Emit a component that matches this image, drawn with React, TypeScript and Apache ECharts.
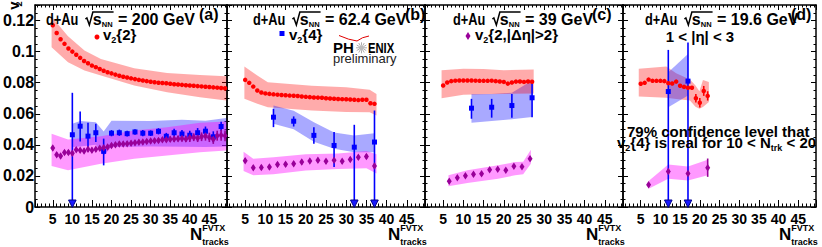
import React, { useEffect, useRef } from "react";
import * as echarts from "echarts";

const FONT = '"Liberation Sans", Arial, Helvetica, sans-serif';

// ---------------- Panel (a): 200 GeV ----------------
const aRedN = [5, 6, 7, 8, 9, 10, 11, 12, 13, 14, 15, 16, 17, 18, 19, 20, 21, 22, 23, 24, 25, 26, 27, 28, 29, 30, 31, 32, 33, 34, 35, 36, 37, 38, 39, 40, 41, 42, 43, 44, 45, 46, 47, 48, 49];
const aRedV = [0.117, 0.112, 0.108, 0.105, 0.102, 0.1, 0.098, 0.096, 0.094, 0.0925, 0.091, 0.09, 0.0888, 0.0877, 0.0867, 0.086, 0.0852, 0.0845, 0.0838, 0.0833, 0.0828, 0.0823, 0.0818, 0.0814, 0.081, 0.0806, 0.0803, 0.08, 0.0798, 0.0796, 0.0793, 0.079, 0.0788, 0.0786, 0.0784, 0.0782, 0.078, 0.0778, 0.0776, 0.0774, 0.0772, 0.077, 0.0768, 0.0766, 0.0764];
const aRedBandN = [4.7, 8.9, 13.1, 17.3, 25.8, 34.2, 42.6, 49.3];
const aRedBandHi = [0.1224, 0.1099, 0.1007, 0.0953, 0.0893, 0.0863, 0.085, 0.0841];
const aRedBandLo = [0.1028, 0.0931, 0.0878, 0.0846, 0.0782, 0.0739, 0.0707, 0.0685];

const aBlueN = [10, 12, 14, 16, 18, 20, 22, 24, 26, 28, 30, 32, 34, 36, 38, 40, 42, 44, 46, 48];
const aBlueV = [0.0465, 0.052, 0.0456, 0.0478, 0.0358, 0.0475, 0.0478, 0.0472, 0.0483, 0.0475, 0.0475, 0.0487, 0.0455, 0.0478, 0.047, 0.0462, 0.0478, 0.0488, 0.0452, 0.0518];
const aBlueUp = [0.027, 0.0095, 0.0086, 0.0058, 0.0082, 0.002, 0.002, 0.0018, 0.0018, 0.002, 0.0018, 0.002, 0.0022, 0.0025, 0.0025, 0.0028, 0.003, 0.003, 0.0035, 0.003];
const aBlueDn = [0.06, 0.0098, 0.0077, 0.006, 0.009, 0.002, 0.002, 0.0018, 0.0018, 0.002, 0.0018, 0.002, 0.0022, 0.0025, 0.0025, 0.0028, 0.003, 0.003, 0.0035, 0.003];
const aBlueBandN = [10, 12, 16, 18, 20, 30, 38, 44, 49.3];
const aBlueBandHi = [0.0535, 0.0553, 0.0546, 0.0486, 0.0555, 0.0553, 0.0561, 0.0555, 0.0572];
const aBlueBandLo = [0.0386, 0.039, 0.04, 0.0332, 0.0386, 0.039, 0.0388, 0.0386, 0.039];

const aPurN = [5, 6, 7, 8, 9, 10, 11, 12, 13, 14, 15, 16, 17, 18, 19, 20, 21, 22, 23, 24, 25, 26, 27, 28, 29, 30, 31, 32, 33, 34, 35, 36, 37, 38, 39, 40, 41, 42, 43, 44, 45, 46, 47, 48, 49];
const aPurV = [0.0379, 0.0336, 0.0328, 0.035, 0.0351, 0.0346, 0.0368, 0.0365, 0.0361, 0.0371, 0.0366, 0.0371, 0.0378, 0.0381, 0.0386, 0.0395, 0.04, 0.0405, 0.0406, 0.0407, 0.0411, 0.0413, 0.0417, 0.0418, 0.0422, 0.0424, 0.0427, 0.0428, 0.0432, 0.0433, 0.0436, 0.0437, 0.044, 0.0441, 0.0438, 0.0446, 0.0449, 0.0443, 0.0452, 0.0457, 0.0448, 0.0436, 0.0459, 0.0462, 0.0458];
const aPurErr = [0.0015, 0.0015, 0.0015, 0.0015, 0.0015, 0.0015, 0.0015, 0.0015, 0.0015, 0.0015, 0.0015, 0.0015, 0.0015, 0.0015, 0.0015, 0.0015, 0.0015, 0.0015, 0.0015, 0.0015, 0.0015, 0.0015, 0.0015, 0.0015, 0.0015, 0.0015, 0.0015, 0.0015, 0.0015, 0.0015, 0.0018, 0.0018, 0.0018, 0.002, 0.002, 0.0027, 0.0025, 0.0025, 0.0028, 0.003, 0.003, 0.003, 0.0032, 0.0035, 0.0035];
const aPurBandN = [4.7, 8.9, 17.3, 25.8, 34.2, 42.6, 49.3];
const aPurBandHi = [0.0471, 0.0435, 0.0456, 0.0493, 0.0514, 0.0542, 0.055];
const aPurBandLo = [0.0264, 0.0236, 0.0279, 0.0311, 0.0332, 0.0353, 0.0364];

// ---------------- Panel (b): 62.4 GeV ----------------
const bRedN = [5, 6, 7, 8, 9, 10, 11, 12, 13, 14, 15, 16, 17, 18, 19, 20, 21, 22, 23, 24, 25, 26, 27, 28, 29, 30, 31, 32, 33, 34, 35, 36, 37];
const bRedV = [0.0818, 0.0799, 0.0775, 0.075, 0.0737, 0.0731, 0.0728, 0.0725, 0.0723, 0.0721, 0.0719, 0.0717, 0.0716, 0.0714, 0.0711, 0.0709, 0.0707, 0.0705, 0.0704, 0.0703, 0.07, 0.0698, 0.0697, 0.0695, 0.0694, 0.0693, 0.0692, 0.069, 0.0688, 0.069, 0.069, 0.0668, 0.0664];
const bRedBandN = [4.8, 8, 10.6, 21.5, 30, 35.8, 37.5];
const bRedBandHi = [0.0905, 0.0846, 0.0803, 0.078, 0.077, 0.0755, 0.0728];
const bRedBandLo = [0.0696, 0.0664, 0.0642, 0.0621, 0.0612, 0.061, 0.0589];

const bBlueN = [12, 17, 22, 27, 32, 37];
const bBlueV = [0.0578, 0.0552, 0.0461, 0.0396, 0.0385, 0.0418];
const bBlueUp = [0.0054, 0.0031, 0.0053, 0.0086, 0.0144, 0.0203];
const bBlueDn = [0.0064, 0.0034, 0.0054, 0.0139, 0.05, 0.05];
const bBlueBandN = [12, 17, 22, 27, 32, 37];
const bBlueBandHi = [0.0653, 0.062, 0.0546, 0.048, 0.046, 0.0475];
const bBlueBandLo = [0.0536, 0.05, 0.042, 0.0375, 0.0353, 0.0353];

const bPurN = [5, 7, 9, 11, 13, 15, 17, 19, 21, 23, 25, 27, 29, 31, 33, 35, 37];
const bPurV = [0.0298, 0.0253, 0.0255, 0.0257, 0.0274, 0.0275, 0.0278, 0.0289, 0.0296, 0.0301, 0.0294, 0.0301, 0.0294, 0.0306, 0.032, 0.0325, 0.0264];
const bPurErr = [0.0015, 0.0015, 0.0015, 0.0015, 0.0015, 0.0015, 0.0015, 0.0015, 0.0015, 0.0015, 0.0015, 0.0015, 0.0015, 0.0015, 0.0015, 0.0015, 0.0015];
const bPurBandN = [4.6, 7, 12, 20, 28, 35, 37.5];
const bPurBandHi = [0.0355, 0.031, 0.032, 0.034, 0.0345, 0.036, 0.034];
const bPurBandLo = [0.0232, 0.0205, 0.021, 0.0235, 0.0245, 0.025, 0.0215];

// ---------------- Panel (c): 39 GeV ----------------
const cRedN = [5, 6, 7, 8, 9, 10, 11, 12, 13, 14, 15, 16, 17, 18, 19, 20, 21, 22, 23, 24, 25, 26, 27];
const cRedV = [0.0782, 0.0801, 0.081, 0.0813, 0.0814, 0.0814, 0.0814, 0.0814, 0.0813, 0.0812, 0.0812, 0.0812, 0.0813, 0.081, 0.0808, 0.0805, 0.0794, 0.0801, 0.0807, 0.0808, 0.0805, 0.0808, 0.0806];
const cRedBandN = [4.6, 10, 15, 20, 27.4];
const cRedBandHi = [0.088, 0.089, 0.0888, 0.088, 0.0885];
const cRedBandLo = [0.07, 0.0722, 0.0725, 0.0728, 0.073];

const cBlueN = [12, 17, 22, 27];
const cBlueV = [0.0636, 0.0642, 0.0653, 0.0703];
const cBlueUp = [0.006, 0.0054, 0.0075, 0.011];
const cBlueDn = [0.0068, 0.0067, 0.0078, 0.0125];
const cBlueBandN = [12, 17, 22, 27];
const cBlueBandHi = [0.0728, 0.0728, 0.0735, 0.0814];
const cBlueBandLo = [0.0542, 0.0553, 0.0565, 0.058];

const cPurN = [6.5, 8.5, 10.5, 12.5, 14.5, 16.5, 18.5, 20.5, 22.5, 24.5, 26.5];
const cPurV = [0.0165, 0.0189, 0.0201, 0.021, 0.0214, 0.024, 0.0243, 0.0237, 0.0262, 0.0259, 0.0311];
const cPurErr = [0.0012, 0.0012, 0.0012, 0.0012, 0.0012, 0.0012, 0.0012, 0.0012, 0.0012, 0.0012, 0.0014];
const cPurBandN = [6.3, 11, 18.6, 22.8, 24.8, 26.7];
const cPurBandHi = [0.0204, 0.0236, 0.0268, 0.0289, 0.0292, 0.0369];
const cPurBandLo = [0.0133, 0.0154, 0.0182, 0.0204, 0.021, 0.0279];

// ---------------- Panel (d): 19.6 GeV ----------------
const dRedN = [5, 6, 7, 8, 9, 10, 11, 12, 13, 14, 15, 16, 17, 18, 19, 20, 21, 22];
const dRedV = [0.0793, 0.0799, 0.082, 0.0812, 0.0812, 0.0812, 0.081, 0.0797, 0.0795, 0.0807, 0.078, 0.0773, 0.0767, 0.0767, 0.07, 0.0671, 0.0747, 0.0715];
const dRedErr = [0.0008, 0.0008, 0.0008, 0.0008, 0.0008, 0.0008, 0.0008, 0.0008, 0.0008, 0.0008, 0.001, 0.001, 0.001, 0.001, 0.0028, 0.003, 0.0032, 0.003];
const dRedBandN = [4.5, 11.5, 14, 17.5, 18.9, 19.9, 20.8, 22.3];
const dRedBandHi = [0.0889, 0.0904, 0.086, 0.082, 0.0782, 0.0745, 0.0818, 0.0805];
const dRedBandLo = [0.0711, 0.0703, 0.0695, 0.0685, 0.0645, 0.0632, 0.0643, 0.0675];

const dBlueN = [12, 17];
const dBlueV = [0.0743, 0.081];
const dBlueUp = [0.0268, 0.0248];
const dBlueDn = [0.09, 0.09];
const dBlueBandN = [12, 17];
const dBlueBandHi = [0.0867, 0.0985];
const dBlueBandLo = [0.0642, 0.0718];

const dPurN = [7, 12, 17, 22];
const dPurV = [0.0143, 0.0229, 0.0216, 0.0253];
const dPurErr = [0.001, 0.0012, 0.0012, 0.0059];
const dPurBandN = [7, 12, 17, 22];
const dPurBandHi = [0.0167, 0.0274, 0.0261, 0.0304];
const dPurBandLo = [0.0118, 0.0182, 0.0171, 0.0204];

// panel texts
const energies = ["200", "62.4", "39", "19.6"];
const panelTags = ["(a)", "(b)", "(c)", "(d)"];

const RED = "#ff0000";
const BLUE = "#0000ff";
const PUR = "#990099";
const RED_BAND = "rgba(255,0,0,0.33)";
const BLUE_BAND = "rgba(40,40,255,0.4)";
const PUR_BAND = "rgba(255,0,255,0.4)";

const GRIDS = [
  { left: 33, width: 194 },
  { left: 227, width: 198 },
  { left: 425, width: 198 },
  { left: 623, width: 193 },
];
const TOP = 5;
const HEIGHT = 202;

function bandSeries(gi: number, N: number[], lo: number[], hi: number[], color: string, z: number) {
  return {
    type: "custom",
    xAxisIndex: gi * 2,
    yAxisIndex: gi * 2,
    z,
    silent: true,
    clip: true,
    data: N.map((n, i) => [n, lo[i], hi[i]]),
    renderItem: (params: any, api: any) => {
      if (params.dataIndex !== 0) return null;
      const top = N.map((n, i) => api.coord([n, hi[i]]));
      const bot = N.map((n, i) => api.coord([n, lo[i]])).reverse();
      return { type: "polygon", shape: { points: top.concat(bot) }, style: { fill: color } };
    },
  };
}

function errSeries(gi: number, N: number[], v: number[], up: number[], dn: number[], color: string, z: number) {
  return {
    type: "custom",
    xAxisIndex: gi * 2,
    yAxisIndex: gi * 2,
    z,
    silent: true,
    clip: false,
    data: N.map((n, i) => [n, v[i] - dn[i], v[i] + up[i]]),
    renderItem: (params: any, api: any) => {
      const n = api.value(0);
      const lo = api.value(1);
      const hi = api.value(2);
      const arrow = lo < 0;
      const p1 = api.coord([n, hi]);
      const p0 = api.coord([n, Math.max(lo, 0)]);
      const children: any[] = [
        { type: "line", shape: { x1: p0[0], y1: arrow ? p0[1] - 6 : p0[1], x2: p1[0], y2: p1[1] }, style: { stroke: color, lineWidth: 1.6 } },
      ];
      if (arrow) {
        children.push({
          type: "polygon",
          shape: { points: [[p0[0] - 3.8, p0[1] - 7], [p0[0] + 3.8, p0[1] - 7], [p0[0], p0[1] + 0.5]] },
          style: { fill: "#1a1aff", stroke: "#00008b", lineWidth: 1 },
        });
      }
      return { type: "group", children };
    },
  };
}

function pointSeries(gi: number, N: number[], v: number[], symbol: string, size: any, color: string) {
  return {
    type: "scatter",
    xAxisIndex: gi * 2,
    yAxisIndex: gi * 2,
    z: 10,
    silent: true,
    symbol,
    symbolSize: size,
    itemStyle: { color, opacity: 1 },
    data: N.map((n, i) => [n, v[i]]),
  };
}

export default function App() {
  const ref = useRef<HTMLDivElement>(null);
  useEffect(() => {
    document.body.style.margin = "0";
    const chart = echarts.init(ref.current!, null, { renderer: "svg" });

    const cv = document.createElement("canvas").getContext("2d")!;
    const tw = (t: string, s: number, w = "bold") => {
      cv.font = `${w} ${s}px ${FONT}`;
      return cv.measureText(t).width;
    };
    const txt = (t: string, x: number, base: number, s: number, opts: any = {}) => ({
      type: "text",
      x,
      y: base - 0.35 * s,
      z: 100,
      silent: true,
      rotation: opts.rotation || 0,
      scaleX: opts.sx || 1,
      style: {
        text: t,
        fontSize: s,
        fontWeight: opts.w || "bold",
        fontFamily: FONT,
        fill: opts.fill || "#000",
        textAlign: opts.align || "left",
        verticalAlign: "middle",
      },
    });
    const seq = (x0: number, base: number, parts: any[]) => {
      const els: any[] = [];
      let x = x0;
      for (const p of parts) {
        els.push(txt(p.t, x, base + (p.dy || 0), p.s, { w: p.w, sx: p.sx }));
        x += tw(p.t, p.s, p.w || "bold") * (p.sx || 1) + (p.gap || 0);
      }
      return { els, end: x };
    };

    const graphics: any[] = [];
    // Titles
    const titleX = [46, 253, 453, 645];
    const tagX = [199, 405, 592, 791];
    const base = 25;
    for (let i = 0; i < 4; i++) {
      const x0 = titleX[i];
      const a = seq(x0, base, [{ t: "d+Au", s: 16, sx: 0.8 }]);
      const rx = a.end + 7;
      const s = seq(rx + 7.5, base, [{ t: "s", s: 16 }, { t: "NN", s: 7.5, dy: 2 }]);
      graphics.push(...a.els, ...s.els);
      graphics.push({
        type: "polyline",
        silent: true,
        z: 100,
        shape: { points: [[rx, base - 6], [rx + 1.5, base - 7], [rx + 4, base], [rx + 7.5, base - 13], [s.end + 1, base - 13]] },
        style: { stroke: "#000", lineWidth: 1.5, fill: null },
      });
      const e = seq(s.end + 1, base, [{ t: " = " + energies[i] + " GeV", s: 16 }]);
      graphics.push(...e.els);
      graphics.push(txt(panelTags[i], tagX[i], 20, 16));
    }
    // Legends
    graphics.push({ type: "circle", silent: true, z: 100, shape: { cx: 97, cy: 37, r: 2.5 }, style: { fill: RED } });
    graphics.push(...seq(103, 40, [{ t: "v", s: 15 }, { t: "2", s: 9, dy: 3 }, { t: "{2}", s: 15 }]).els);
    graphics.push({ type: "rect", silent: true, z: 100, shape: { x: 279.5, y: 31, width: 5, height: 5 }, style: { fill: BLUE } });
    graphics.push(...seq(289, 40, [{ t: "v", s: 15 }, { t: "2", s: 9, dy: 3 }, { t: "{4}", s: 15 }]).els);
    graphics.push({ type: "polygon", silent: true, z: 100, shape: { points: [[468, 32], [470.5, 36], [468, 40], [465.5, 36]] }, style: { fill: PUR } });
    graphics.push(...seq(475, 40, [{ t: "v", s: 15 }, { t: "2", s: 9, dy: 3 }, { t: "{2,|Δη|>2}", s: 15 }]).els);
    // panel d notes
    graphics.push(txt("1 < |η| < 3", 700, 42, 15, { align: "center" }));
    graphics.push(txt("79% confidence level that", 627, 137, 15));
    graphics.push(
      ...seq(617, 148, [
        { t: "v", s: 15 },
        { t: "2", s: 9, dy: 3 },
        { t: "{4} is real for 10 < N", s: 15 },
        { t: "trk", s: 9, dy: 3 },
        { t: " < 20", s: 15 },
      ]).els
    );
    // PHENIX logo
    graphics.push(txt("PH", 333, 53, 15));
    graphics.push(txt("ENIX", 368, 53, 15, { sx: 0.75 }));
    const sx = 361.5, sy = 47.8;
    const rays: any[] = [];
    for (let k = 0; k < 12; k++) {
      const ang = (k * Math.PI) / 6;
      rays.push({ type: "line", shape: { x1: sx + Math.cos(ang) * 2.5, y1: sy + Math.sin(ang) * 2.5, x2: sx + Math.cos(ang) * 5.5, y2: sy + Math.sin(ang) * 5.5 }, style: { stroke: "#999", lineWidth: 0.8 } });
    }
    graphics.push({ type: "group", silent: true, z: 100, children: [...rays, { type: "circle", shape: { cx: sx, cy: sy, r: 2.6 }, style: { fill: "#bbb" } }] });
    graphics.push({ type: "bezierCurve", silent: true, z: 100, shape: { x1: 339, y1: 35.5, cpx1: 349, cpy1: 40, x2: 357, y2: 41 }, style: { stroke: "#e00000", lineWidth: 1, fill: null } });
    graphics.push({ type: "bezierCurve", silent: true, z: 100, shape: { x1: 357, y1: 41, cpx1: 362, cpy1: 37, x2: 369, y2: 36 }, style: { stroke: "#e00000", lineWidth: 1, fill: null } });
    graphics.push(txt("preliminary", 333, 63, 13, { w: "normal", fill: "#222" }));
    // x-axis titles
    for (let i = 0; i < 4; i++) {
      const right = GRIDS[i].left + GRIDS[i].width;
      const nx = right - 37;
      const nw = tw("N", 17);
      graphics.push(txt("N", nx, 240, 17));
      graphics.push(txt("FVTX", nx + nw, 231, 9));
      graphics.push(txt("tracks", nx + nw, 245, 9));
    }
    // y-axis title (rotated v_2)
    graphics.push(txt("v", 13.5, 15, 15, { rotation: Math.PI / 2 }));
    graphics.push({ ...txt("2", 0, 0, 9, { rotation: Math.PI / 2 }), x: 19, y: 6.5 });

    const xAxes: any[] = [];
    const yAxes: any[] = [];
    GRIDS.forEach((g, i) => {
      const common = {
        gridIndex: i,
        type: "value",
        min: 0.5,
        max: 49.5,
        splitNumber: 10,
        splitLine: { show: false },
        minorSplitLine: { show: false },
        axisLine: { onZero: false, lineStyle: { color: "#000", width: 1.5 } },
      };
      xAxes.push({
        ...common,
        position: "bottom",
        axisTick: { inside: true, length: 7, lineStyle: { color: "#000", width: 1 } },
        minorTick: { show: true, splitNumber: 5, length: 3.5, lineStyle: { color: "#000", width: 1 } },
        axisLabel: {
          margin: 5,
          color: "#000",
          fontSize: 14,
          fontWeight: "bold",
          fontFamily: FONT,
          formatter: (v: number) => (Math.abs(v % 5) < 1e-6 ? String(v) : ""),
        },
      });
      xAxes.push({
        ...common,
        position: "top",
        axisTick: { inside: true, length: 5, lineStyle: { color: "#000", width: 1 } },
        minorTick: { show: true, splitNumber: 5, length: 2.5, lineStyle: { color: "#000", width: 1 } },
        axisLabel: { show: false },
      });
      const ycommon = {
        gridIndex: i,
        type: "value",
        min: 0,
        max: 0.13,
        interval: 0.02,
        splitLine: { show: false },
        minorSplitLine: { show: false },
        axisLine: { onZero: false, lineStyle: { color: "#000", width: 1.5 } },
        axisTick: { inside: true, length: 5, lineStyle: { color: "#000", width: 1 } },
        minorTick: { show: true, splitNumber: 4, length: 2.5, lineStyle: { color: "#000", width: 1 } },
      };
      yAxes.push({
        ...ycommon,
        position: "left",
        axisLabel: {
          show: i === 0,
          margin: 1,
          color: "#000",
          fontSize: 16,
          fontWeight: "bold",
          fontFamily: FONT,
          formatter: (v: number) => (v > 0.125 ? "" : v === 0 ? "0" : String(+v.toFixed(2))),
        },
      });
      yAxes.push({ ...ycommon, position: "right", axisLabel: { show: false } });
    });

    const series: any[] = [
      // (a)
      bandSeries(0, aRedBandN, aRedBandLo, aRedBandHi, RED_BAND, 1),
      bandSeries(0, aBlueBandN, aBlueBandLo, aBlueBandHi, BLUE_BAND, 2),
      bandSeries(0, aPurBandN, aPurBandLo, aPurBandHi, PUR_BAND, 3),
      errSeries(0, aBlueN, aBlueV, aBlueUp, aBlueDn, BLUE, 6),
      errSeries(0, aPurN, aPurV, aPurErr, aPurErr, PUR, 6),
      pointSeries(0, aRedN, aRedV, "circle", 4.5, RED),
      pointSeries(0, aBlueN, aBlueV, "rect", 5, BLUE),
      pointSeries(0, aPurN, aPurV, "diamond", [5, 7.5], PUR),
      // (b)
      bandSeries(1, bRedBandN, bRedBandLo, bRedBandHi, RED_BAND, 1),
      bandSeries(1, bBlueBandN, bBlueBandLo, bBlueBandHi, BLUE_BAND, 2),
      bandSeries(1, bPurBandN, bPurBandLo, bPurBandHi, PUR_BAND, 3),
      errSeries(1, bBlueN, bBlueV, bBlueUp, bBlueDn, BLUE, 6),
      errSeries(1, bPurN, bPurV, bPurErr, bPurErr, PUR, 6),
      pointSeries(1, bRedN, bRedV, "circle", 4.5, RED),
      pointSeries(1, bBlueN, bBlueV, "rect", 5, BLUE),
      pointSeries(1, bPurN, bPurV, "diamond", [5, 7.5], PUR),
      // (c)
      bandSeries(2, cBlueBandN, cBlueBandLo, cBlueBandHi, BLUE_BAND, 1),
      bandSeries(2, cRedBandN, cRedBandLo, cRedBandHi, RED_BAND, 2),
      bandSeries(2, cPurBandN, cPurBandLo, cPurBandHi, PUR_BAND, 3),
      errSeries(2, cBlueN, cBlueV, cBlueUp, cBlueDn, BLUE, 6),
      errSeries(2, cPurN, cPurV, cPurErr, cPurErr, PUR, 6),
      pointSeries(2, cRedN, cRedV, "circle", 4.5, RED),
      pointSeries(2, cBlueN, cBlueV, "rect", 5, BLUE),
      pointSeries(2, cPurN, cPurV, "diamond", [5, 7.5], PUR),
      // (d)
      bandSeries(3, dRedBandN, dRedBandLo, dRedBandHi, RED_BAND, 1),
      bandSeries(3, dBlueBandN, dBlueBandLo, dBlueBandHi, BLUE_BAND, 2),
      bandSeries(3, dPurBandN, dPurBandLo, dPurBandHi, PUR_BAND, 3),
      errSeries(3, dRedN, dRedV, dRedErr, dRedErr, RED, 5),
      errSeries(3, dBlueN, dBlueV, dBlueUp, dBlueDn, BLUE, 6),
      errSeries(3, dPurN, dPurV, dPurErr, dPurErr, PUR, 6),
      pointSeries(3, dRedN, dRedV, "circle", 4.5, RED),
      pointSeries(3, dBlueN, dBlueV, "rect", 5, BLUE),
      pointSeries(3, dPurN, dPurV, "diamond", [5, 7.5], PUR),
    ];

    chart.setOption({
      animation: false,
      backgroundColor: "#fff",
      grid: GRIDS.map((g) => ({ left: g.left, top: TOP, width: g.width, height: HEIGHT, containLabel: false })),
      xAxis: xAxes,
      yAxis: yAxes,
      series,
      graphic: graphics,
    });
    return () => chart.dispose();
  }, []);
  return <div ref={ref} style={{ width: 822, height: 247 }} />;
}
